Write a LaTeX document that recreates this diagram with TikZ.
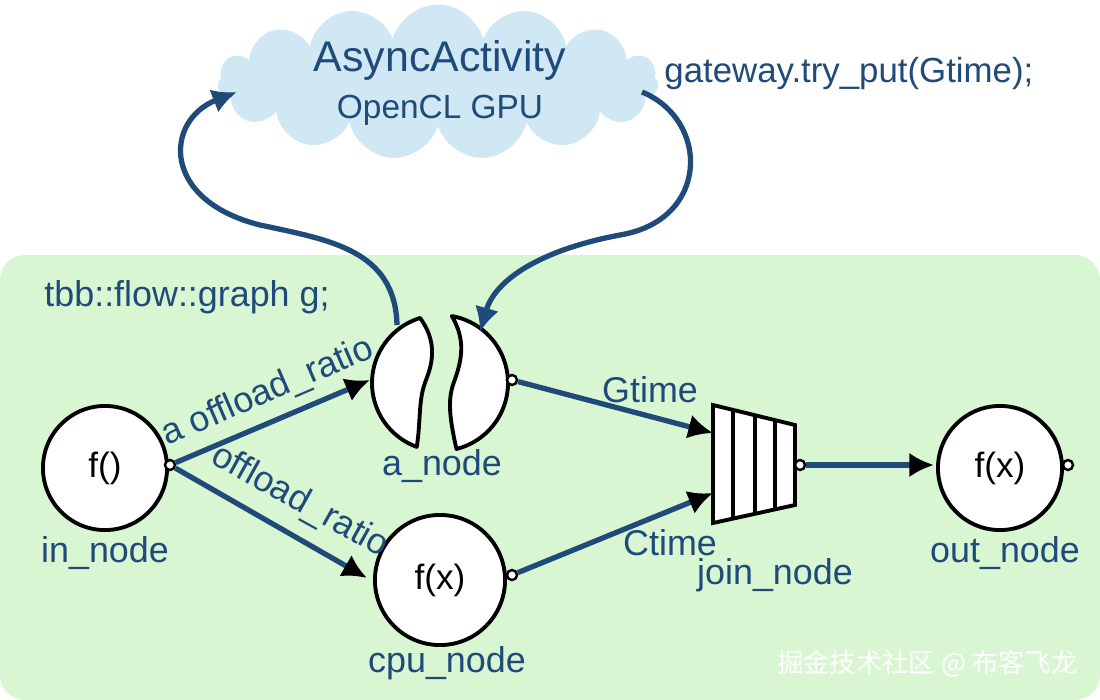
\documentclass[tikz,border=0pt]{standalone}
\usepackage{fontspec}
\setmainfont{Liberation Sans}
\newfontfamily\cjk{Noto Sans CJK SC}
\usetikzlibrary{arrows.meta,shapes.symbols,shapes.geometric,calc}
\definecolor{edge}{HTML}{1F4A7A}
\definecolor{bg}{HTML}{D9F6D2}
\definecolor{cloudc}{HTML}{D0E7F4}
\begin{document}
\begin{tikzpicture}[x=0.01cm,y=-0.01cm,
  fn/.style={circle,draw=black,line width=1.1pt,fill=white,minimum size=#1*0.02cm,inner sep=0pt,font=\fontsize{10}{12}\selectfont},
  port/.style={circle,draw=black,line width=0.7pt,fill=white,minimum size=0.1cm,inner sep=0pt},
  lbl/.style={text=edge,font=\fontsize{10.2}{12}\selectfont},
  conn/.style={draw=edge,line width=1.5pt,-{Latex[black,length=7pt,width=7pt]}},
  loop/.style={draw=edge,line width=1.5pt,-{Latex[edge,length=7pt,width=7pt]}},
  half/.style={draw=black,line width=1.1pt,fill=white,line join=round}]
\useasboundingbox (0,0) rectangle (1100,700);
\fill[bg,rounded corners=0.25cm] (0,255) rectangle (1100,700);
\node[cloud,cloud puffs=15,aspect=3,fill=cloudc,draw=none,minimum width=4.4cm,minimum height=1.55cm] (cloud) at (438,82) {};
\node[text=edge,font=\fontsize{12.2}{14}\selectfont] (t1) at (440,60) {AsyncActivity};
\node[text=edge,font=\fontsize{9.5}{12}\selectfont] (t2) at (440,110) {OpenCL GPU};
\node[lbl,anchor=west,font=\fontsize{9.9}{12}\selectfont] (gw) at (652,73) {gateway.try\_put(Gtime);};
\node[lbl,anchor=west] (tbb) at (32,297) {tbb::flow::graph g;};
% nodes
\node[fn=62] (in) at (105,468) {f()};
\node[lbl] (inl) at (105,553) {in\_node};
\coordinate (a) at (440,383);
\draw[half] plot[domain=253:110,samples=40] ({440+68*cos(\x)},{383+68*sin(\x)})
  .. controls (421,420) and (418,400) .. (426,380) .. controls (434,360) and (436,340) .. cycle;
\draw[half] plot[domain=-80:76,samples=40] ({440+68*cos(\x)},{383+68*sin(\x)})
  .. controls (450,420) and (447,400) .. (454,382) .. controls (462,360) and (466,340) .. cycle;
\node[lbl] (al) at (442,466) {a\_node};
\node[fn=65] (cpu) at (440,580) {f(x)};
\node[lbl] (cpul) at (447,663) {cpu\_node};
\node[fn=62] (out) at (1000,468) {f(x)};
\node[lbl] (outl) at (1005,553) {out\_node};
% join
\coordinate (jin1) at (713,433);
\coordinate (jin2) at (713,493);
\draw[line width=1.1pt,fill=white] (713,405) -- (795,425) -- (795,505) -- (713,523) -- cycle;
\foreach \x in {733,755,775} {
  \pgfmathsetmacro{\ya}{405+(\x-713)*20/82}
  \pgfmathsetmacro{\yb}{523-(\x-713)*18/82}
  \draw[line width=1.1pt] (\x,\ya) -- (\x,\yb);}
\node[lbl] (jl) at (775,575) {join\_node};
% ports
\node[port] (pin) at (170,465) {};
\node[port] (pa) at (512,380) {};
\node[port] (pcpu) at (512,575) {};
\node[port] (pj) at (800,465) {};
\node[port] (pout) at (1068,465) {};
% connectors
\coordinate (ain) at (370,380);
\draw[conn] (pin) -- (ain);
\draw[conn] (pin) -- ($(cpu.west)+(-6,-2)$);
\draw[conn] (pa) -- (jin1);
\draw[conn] (pcpu) -- (jin2);
\draw[conn] (pj) -- ($(out.west)+(-2,-3)$);
\node[lbl,rotate=23.3,anchor=south west,inner sep=1pt] (l1) at (168,458) {a offload\_ratio};
\node[lbl,rotate=-29,anchor=south west,inner sep=1pt] (l2) at (200,470) {offload\_ratio};
\node[lbl] (gt) at (650,390) {Gtime};
\node[lbl] (ct) at (670,543) {Ctime};
% loops
\coordinate (s1) at (397,325);
\coordinate (e1) at (237,92);
\draw[loop] (s1) .. controls (395,250) and (330,240) .. (260,225)
  .. controls (160,200) and (165,120) .. (e1);
\coordinate (s2) at (642,92);
\coordinate (e2) at (480,332);
\draw[loop] (s2) .. controls (710,120) and (710,220) .. (620,235)
  .. controls (540,250) and (495,280) .. (e2);
\node[text=white,anchor=east,font=\cjk\fontsize{7.5}{9}\selectfont] (wm) at (1090,664) {掘金技术社区 @ 布客飞龙};
\end{tikzpicture}
\end{document}
